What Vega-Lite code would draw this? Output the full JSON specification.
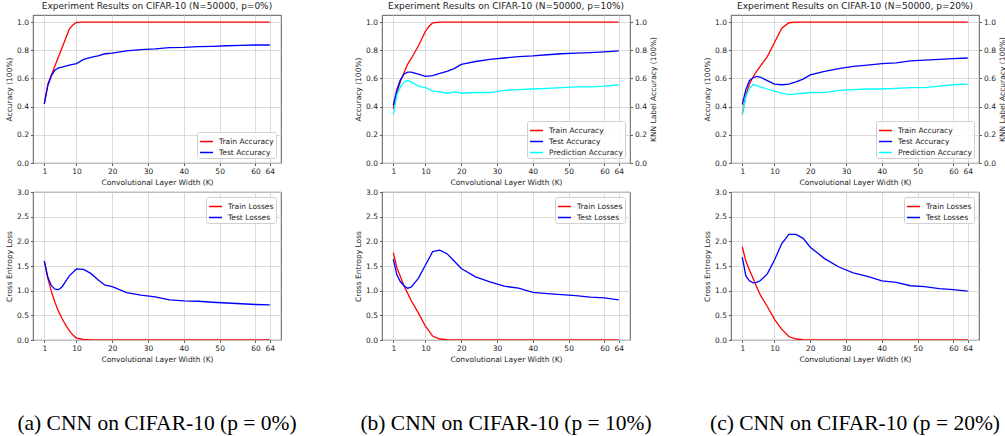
{
  "$schema": "https://vega.github.io/schema/vega-lite/v6.json",
  "padding": {"left": 5, "top": 1, "right": 0, "bottom": 0},
  "background": "white",
  "config": {
    "view": {"stroke": "#333333", "strokeWidth": 0.8},
    "axis": {"labelFont": "DejaVu Sans", "titleFont": "DejaVu Sans", "labelFontSize": 7.5, "titleFontSize": 7.5, "titleFontWeight": "normal", "labelColor": "#222222", "titleColor": "#222222", "tickColor": "#333333", "tickSize": 2.5, "tickWidth": 0.8, "domain": false, "grid": true, "gridColor": "#d2d2d2", "gridWidth": 0.8, "labelPadding": 2, "titlePadding": 3},
    "title": {"font": "DejaVu Sans", "fontSize": 9, "fontWeight": "normal", "color": "#222222", "offset": 4},
    "legend": {"symbolType": "stroke", "symbolStrokeWidth": 1.5, "symbolSize": 169, "labelFont": "DejaVu Sans", "labelFontSize": 7.5, "labelColor": "#222222", "strokeColor": "#d0d0d0", "fillColor": "rgba(255,255,255,0.85)", "cornerRadius": 2, "padding": 2, "rowPadding": -2, "offset": 5, "labelOffset": 5}
  },
  "datasets": {
    "acc": [
      {"p":"0","s":"Train Accuracy","k":1,"v":0.42},{"p":"0","s":"Train Accuracy","k":2,"v":0.56},{"p":"0","s":"Train Accuracy","k":3,"v":0.625},{"p":"0","s":"Train Accuracy","k":4,"v":0.69},{"p":"0","s":"Train Accuracy","k":5,"v":0.755},{"p":"0","s":"Train Accuracy","k":6,"v":0.82},{"p":"0","s":"Train Accuracy","k":7,"v":0.885},{"p":"0","s":"Train Accuracy","k":8,"v":0.95},{"p":"0","s":"Train Accuracy","k":9,"v":0.98},{"p":"0","s":"Train Accuracy","k":10,"v":0.997},{"p":"0","s":"Train Accuracy","k":12,"v":1.0},{"p":"0","s":"Train Accuracy","k":20,"v":1.0},{"p":"0","s":"Train Accuracy","k":30,"v":1.0},{"p":"0","s":"Train Accuracy","k":40,"v":1.0},{"p":"0","s":"Train Accuracy","k":50,"v":1.0},{"p":"0","s":"Train Accuracy","k":64,"v":1.0},
      {"p":"0","s":"Test Accuracy","k":1,"v":0.42},{"p":"0","s":"Test Accuracy","k":2,"v":0.55},{"p":"0","s":"Test Accuracy","k":3,"v":0.62},{"p":"0","s":"Test Accuracy","k":4,"v":0.66},{"p":"0","s":"Test Accuracy","k":5,"v":0.675},{"p":"0","s":"Test Accuracy","k":6,"v":0.68},{"p":"0","s":"Test Accuracy","k":8,"v":0.695},{"p":"0","s":"Test Accuracy","k":10,"v":0.705},{"p":"0","s":"Test Accuracy","k":12,"v":0.735},{"p":"0","s":"Test Accuracy","k":14,"v":0.75},{"p":"0","s":"Test Accuracy","k":16,"v":0.76},{"p":"0","s":"Test Accuracy","k":18,"v":0.775},{"p":"0","s":"Test Accuracy","k":20,"v":0.78},{"p":"0","s":"Test Accuracy","k":24,"v":0.795},{"p":"0","s":"Test Accuracy","k":28,"v":0.805},{"p":"0","s":"Test Accuracy","k":32,"v":0.81},{"p":"0","s":"Test Accuracy","k":36,"v":0.818},{"p":"0","s":"Test Accuracy","k":40,"v":0.82},{"p":"0","s":"Test Accuracy","k":44,"v":0.825},{"p":"0","s":"Test Accuracy","k":48,"v":0.828},{"p":"0","s":"Test Accuracy","k":52,"v":0.832},{"p":"0","s":"Test Accuracy","k":56,"v":0.835},{"p":"0","s":"Test Accuracy","k":60,"v":0.837},{"p":"0","s":"Test Accuracy","k":64,"v":0.837},
      {"p":"10","s":"Train Accuracy","k":1,"v":0.385},{"p":"10","s":"Train Accuracy","k":2,"v":0.5},{"p":"10","s":"Train Accuracy","k":3,"v":0.58},{"p":"10","s":"Train Accuracy","k":4,"v":0.64},{"p":"10","s":"Train Accuracy","k":5,"v":0.7},{"p":"10","s":"Train Accuracy","k":6,"v":0.74},{"p":"10","s":"Train Accuracy","k":8,"v":0.83},{"p":"10","s":"Train Accuracy","k":10,"v":0.935},{"p":"10","s":"Train Accuracy","k":11,"v":0.97},{"p":"10","s":"Train Accuracy","k":12,"v":0.995},{"p":"10","s":"Train Accuracy","k":14,"v":1.0},{"p":"10","s":"Train Accuracy","k":20,"v":1.0},{"p":"10","s":"Train Accuracy","k":30,"v":1.0},{"p":"10","s":"Train Accuracy","k":40,"v":1.0},{"p":"10","s":"Train Accuracy","k":50,"v":1.0},{"p":"10","s":"Train Accuracy","k":64,"v":1.0},
      {"p":"10","s":"Test Accuracy","k":1,"v":0.41},{"p":"10","s":"Test Accuracy","k":2,"v":0.52},{"p":"10","s":"Test Accuracy","k":3,"v":0.59},{"p":"10","s":"Test Accuracy","k":4,"v":0.63},{"p":"10","s":"Test Accuracy","k":5,"v":0.645},{"p":"10","s":"Test Accuracy","k":6,"v":0.645},{"p":"10","s":"Test Accuracy","k":8,"v":0.63},{"p":"10","s":"Test Accuracy","k":10,"v":0.615},{"p":"10","s":"Test Accuracy","k":12,"v":0.62},{"p":"10","s":"Test Accuracy","k":14,"v":0.635},{"p":"10","s":"Test Accuracy","k":16,"v":0.65},{"p":"10","s":"Test Accuracy","k":18,"v":0.67},{"p":"10","s":"Test Accuracy","k":20,"v":0.7},{"p":"10","s":"Test Accuracy","k":24,"v":0.72},{"p":"10","s":"Test Accuracy","k":28,"v":0.735},{"p":"10","s":"Test Accuracy","k":32,"v":0.745},{"p":"10","s":"Test Accuracy","k":36,"v":0.755},{"p":"10","s":"Test Accuracy","k":40,"v":0.76},{"p":"10","s":"Test Accuracy","k":44,"v":0.768},{"p":"10","s":"Test Accuracy","k":48,"v":0.775},{"p":"10","s":"Test Accuracy","k":52,"v":0.78},{"p":"10","s":"Test Accuracy","k":56,"v":0.783},{"p":"10","s":"Test Accuracy","k":60,"v":0.788},{"p":"10","s":"Test Accuracy","k":64,"v":0.795},
      {"p":"10","s":"Prediction Accuracy","k":1,"v":0.345},{"p":"10","s":"Prediction Accuracy","k":2,"v":0.48},{"p":"10","s":"Prediction Accuracy","k":3,"v":0.54},{"p":"10","s":"Prediction Accuracy","k":4,"v":0.575},{"p":"10","s":"Prediction Accuracy","k":5,"v":0.585},{"p":"10","s":"Prediction Accuracy","k":6,"v":0.575},{"p":"10","s":"Prediction Accuracy","k":8,"v":0.545},{"p":"10","s":"Prediction Accuracy","k":10,"v":0.535},{"p":"10","s":"Prediction Accuracy","k":12,"v":0.51},{"p":"10","s":"Prediction Accuracy","k":14,"v":0.505},{"p":"10","s":"Prediction Accuracy","k":16,"v":0.495},{"p":"10","s":"Prediction Accuracy","k":18,"v":0.505},{"p":"10","s":"Prediction Accuracy","k":20,"v":0.495},{"p":"10","s":"Prediction Accuracy","k":24,"v":0.5},{"p":"10","s":"Prediction Accuracy","k":28,"v":0.5},{"p":"10","s":"Prediction Accuracy","k":32,"v":0.515},{"p":"10","s":"Prediction Accuracy","k":36,"v":0.52},{"p":"10","s":"Prediction Accuracy","k":40,"v":0.525},{"p":"10","s":"Prediction Accuracy","k":44,"v":0.53},{"p":"10","s":"Prediction Accuracy","k":48,"v":0.535},{"p":"10","s":"Prediction Accuracy","k":52,"v":0.54},{"p":"10","s":"Prediction Accuracy","k":56,"v":0.54},{"p":"10","s":"Prediction Accuracy","k":60,"v":0.545},{"p":"10","s":"Prediction Accuracy","k":64,"v":0.555},
      {"p":"20","s":"Train Accuracy","k":1,"v":0.345},{"p":"20","s":"Train Accuracy","k":2,"v":0.48},{"p":"20","s":"Train Accuracy","k":3,"v":0.56},{"p":"20","s":"Train Accuracy","k":4,"v":0.61},{"p":"20","s":"Train Accuracy","k":5,"v":0.65},{"p":"20","s":"Train Accuracy","k":6,"v":0.685},{"p":"20","s":"Train Accuracy","k":8,"v":0.755},{"p":"20","s":"Train Accuracy","k":10,"v":0.855},{"p":"20","s":"Train Accuracy","k":12,"v":0.955},{"p":"20","s":"Train Accuracy","k":14,"v":0.995},{"p":"20","s":"Train Accuracy","k":16,"v":1.0},{"p":"20","s":"Train Accuracy","k":20,"v":1.0},{"p":"20","s":"Train Accuracy","k":30,"v":1.0},{"p":"20","s":"Train Accuracy","k":40,"v":1.0},{"p":"20","s":"Train Accuracy","k":50,"v":1.0},{"p":"20","s":"Train Accuracy","k":64,"v":1.0},
      {"p":"20","s":"Test Accuracy","k":1,"v":0.415},{"p":"20","s":"Test Accuracy","k":2,"v":0.52},{"p":"20","s":"Test Accuracy","k":3,"v":0.585},{"p":"20","s":"Test Accuracy","k":4,"v":0.605},{"p":"20","s":"Test Accuracy","k":5,"v":0.615},{"p":"20","s":"Test Accuracy","k":6,"v":0.61},{"p":"20","s":"Test Accuracy","k":8,"v":0.585},{"p":"20","s":"Test Accuracy","k":10,"v":0.56},{"p":"20","s":"Test Accuracy","k":12,"v":0.555},{"p":"20","s":"Test Accuracy","k":14,"v":0.56},{"p":"20","s":"Test Accuracy","k":16,"v":0.575},{"p":"20","s":"Test Accuracy","k":18,"v":0.595},{"p":"20","s":"Test Accuracy","k":20,"v":0.625},{"p":"20","s":"Test Accuracy","k":24,"v":0.65},{"p":"20","s":"Test Accuracy","k":28,"v":0.67},{"p":"20","s":"Test Accuracy","k":32,"v":0.685},{"p":"20","s":"Test Accuracy","k":36,"v":0.695},{"p":"20","s":"Test Accuracy","k":40,"v":0.705},{"p":"20","s":"Test Accuracy","k":44,"v":0.71},{"p":"20","s":"Test Accuracy","k":48,"v":0.725},{"p":"20","s":"Test Accuracy","k":52,"v":0.73},{"p":"20","s":"Test Accuracy","k":56,"v":0.735},{"p":"20","s":"Test Accuracy","k":60,"v":0.74},{"p":"20","s":"Test Accuracy","k":64,"v":0.745},
      {"p":"20","s":"Prediction Accuracy","k":1,"v":0.345},{"p":"20","s":"Prediction Accuracy","k":2,"v":0.47},{"p":"20","s":"Prediction Accuracy","k":3,"v":0.53},{"p":"20","s":"Prediction Accuracy","k":4,"v":0.555},{"p":"20","s":"Prediction Accuracy","k":5,"v":0.55},{"p":"20","s":"Prediction Accuracy","k":6,"v":0.54},{"p":"20","s":"Prediction Accuracy","k":8,"v":0.525},{"p":"20","s":"Prediction Accuracy","k":10,"v":0.51},{"p":"20","s":"Prediction Accuracy","k":12,"v":0.495},{"p":"20","s":"Prediction Accuracy","k":14,"v":0.485},{"p":"20","s":"Prediction Accuracy","k":16,"v":0.49},{"p":"20","s":"Prediction Accuracy","k":18,"v":0.495},{"p":"20","s":"Prediction Accuracy","k":20,"v":0.5},{"p":"20","s":"Prediction Accuracy","k":24,"v":0.5},{"p":"20","s":"Prediction Accuracy","k":28,"v":0.515},{"p":"20","s":"Prediction Accuracy","k":32,"v":0.52},{"p":"20","s":"Prediction Accuracy","k":36,"v":0.525},{"p":"20","s":"Prediction Accuracy","k":40,"v":0.525},{"p":"20","s":"Prediction Accuracy","k":44,"v":0.53},{"p":"20","s":"Prediction Accuracy","k":48,"v":0.535},{"p":"20","s":"Prediction Accuracy","k":52,"v":0.535},{"p":"20","s":"Prediction Accuracy","k":56,"v":0.545},{"p":"20","s":"Prediction Accuracy","k":60,"v":0.555},{"p":"20","s":"Prediction Accuracy","k":64,"v":0.56}
    ],
    "loss": [
      {"p":"0","s":"Train Losses","k":1,"v":1.6},{"p":"0","s":"Train Losses","k":2,"v":1.25},{"p":"0","s":"Train Losses","k":3,"v":0.98},{"p":"0","s":"Train Losses","k":4,"v":0.76},{"p":"0","s":"Train Losses","k":5,"v":0.58},{"p":"0","s":"Train Losses","k":6,"v":0.43},{"p":"0","s":"Train Losses","k":7,"v":0.3},{"p":"0","s":"Train Losses","k":8,"v":0.19},{"p":"0","s":"Train Losses","k":9,"v":0.1},{"p":"0","s":"Train Losses","k":10,"v":0.04},{"p":"0","s":"Train Losses","k":12,"v":0.01},{"p":"0","s":"Train Losses","k":14,"v":0.004},{"p":"0","s":"Train Losses","k":16,"v":0.002},{"p":"0","s":"Train Losses","k":20,"v":0.001},{"p":"0","s":"Train Losses","k":30,"v":0.0},{"p":"0","s":"Train Losses","k":40,"v":0.0},{"p":"0","s":"Train Losses","k":50,"v":0.0},{"p":"0","s":"Train Losses","k":64,"v":0.0},
      {"p":"0","s":"Test Losses","k":1,"v":1.605},{"p":"0","s":"Test Losses","k":2,"v":1.27},{"p":"0","s":"Test Losses","k":3,"v":1.1},{"p":"0","s":"Test Losses","k":4,"v":1.03},{"p":"0","s":"Test Losses","k":5,"v":1.02},{"p":"0","s":"Test Losses","k":6,"v":1.08},{"p":"0","s":"Test Losses","k":8,"v":1.3},{"p":"0","s":"Test Losses","k":10,"v":1.44},{"p":"0","s":"Test Losses","k":12,"v":1.43},{"p":"0","s":"Test Losses","k":14,"v":1.35},{"p":"0","s":"Test Losses","k":16,"v":1.22},{"p":"0","s":"Test Losses","k":18,"v":1.11},{"p":"0","s":"Test Losses","k":20,"v":1.08},{"p":"0","s":"Test Losses","k":24,"v":0.96},{"p":"0","s":"Test Losses","k":28,"v":0.91},{"p":"0","s":"Test Losses","k":32,"v":0.875},{"p":"0","s":"Test Losses","k":36,"v":0.815},{"p":"0","s":"Test Losses","k":40,"v":0.795},{"p":"0","s":"Test Losses","k":44,"v":0.785},{"p":"0","s":"Test Losses","k":48,"v":0.765},{"p":"0","s":"Test Losses","k":52,"v":0.75},{"p":"0","s":"Test Losses","k":56,"v":0.735},{"p":"0","s":"Test Losses","k":60,"v":0.72},{"p":"0","s":"Test Losses","k":64,"v":0.71},
      {"p":"10","s":"Train Losses","k":1,"v":1.77},{"p":"10","s":"Train Losses","k":2,"v":1.47},{"p":"10","s":"Train Losses","k":3,"v":1.28},{"p":"10","s":"Train Losses","k":4,"v":1.1},{"p":"10","s":"Train Losses","k":5,"v":0.95},{"p":"10","s":"Train Losses","k":6,"v":0.8},{"p":"10","s":"Train Losses","k":8,"v":0.55},{"p":"10","s":"Train Losses","k":10,"v":0.28},{"p":"10","s":"Train Losses","k":12,"v":0.08},{"p":"10","s":"Train Losses","k":14,"v":0.02},{"p":"10","s":"Train Losses","k":16,"v":0.005},{"p":"10","s":"Train Losses","k":20,"v":0.002},{"p":"10","s":"Train Losses","k":30,"v":0.0},{"p":"10","s":"Train Losses","k":40,"v":0.0},{"p":"10","s":"Train Losses","k":50,"v":0.0},{"p":"10","s":"Train Losses","k":64,"v":0.0},
      {"p":"10","s":"Test Losses","k":1,"v":1.64},{"p":"10","s":"Test Losses","k":2,"v":1.32},{"p":"10","s":"Test Losses","k":3,"v":1.18},{"p":"10","s":"Test Losses","k":4,"v":1.1},{"p":"10","s":"Test Losses","k":5,"v":1.05},{"p":"10","s":"Test Losses","k":6,"v":1.07},{"p":"10","s":"Test Losses","k":8,"v":1.25},{"p":"10","s":"Test Losses","k":10,"v":1.52},{"p":"10","s":"Test Losses","k":12,"v":1.79},{"p":"10","s":"Test Losses","k":14,"v":1.82},{"p":"10","s":"Test Losses","k":16,"v":1.75},{"p":"10","s":"Test Losses","k":18,"v":1.6},{"p":"10","s":"Test Losses","k":20,"v":1.45},{"p":"10","s":"Test Losses","k":24,"v":1.28},{"p":"10","s":"Test Losses","k":28,"v":1.18},{"p":"10","s":"Test Losses","k":32,"v":1.09},{"p":"10","s":"Test Losses","k":36,"v":1.05},{"p":"10","s":"Test Losses","k":40,"v":0.965},{"p":"10","s":"Test Losses","k":44,"v":0.94},{"p":"10","s":"Test Losses","k":48,"v":0.92},{"p":"10","s":"Test Losses","k":52,"v":0.9},{"p":"10","s":"Test Losses","k":56,"v":0.87},{"p":"10","s":"Test Losses","k":60,"v":0.855},{"p":"10","s":"Test Losses","k":64,"v":0.815},
      {"p":"20","s":"Train Losses","k":1,"v":1.89},{"p":"20","s":"Train Losses","k":2,"v":1.6},{"p":"20","s":"Train Losses","k":3,"v":1.42},{"p":"20","s":"Train Losses","k":4,"v":1.25},{"p":"20","s":"Train Losses","k":5,"v":1.08},{"p":"20","s":"Train Losses","k":6,"v":0.92},{"p":"20","s":"Train Losses","k":8,"v":0.68},{"p":"20","s":"Train Losses","k":10,"v":0.42},{"p":"20","s":"Train Losses","k":12,"v":0.22},{"p":"20","s":"Train Losses","k":14,"v":0.07},{"p":"20","s":"Train Losses","k":16,"v":0.02},{"p":"20","s":"Train Losses","k":18,"v":0.005},{"p":"20","s":"Train Losses","k":20,"v":0.002},{"p":"20","s":"Train Losses","k":30,"v":0.0},{"p":"20","s":"Train Losses","k":40,"v":0.0},{"p":"20","s":"Train Losses","k":50,"v":0.0},{"p":"20","s":"Train Losses","k":64,"v":0.0},
      {"p":"20","s":"Test Losses","k":1,"v":1.68},{"p":"20","s":"Test Losses","k":2,"v":1.3},{"p":"20","s":"Test Losses","k":3,"v":1.2},{"p":"20","s":"Test Losses","k":4,"v":1.16},{"p":"20","s":"Test Losses","k":5,"v":1.17},{"p":"20","s":"Test Losses","k":6,"v":1.2},{"p":"20","s":"Test Losses","k":8,"v":1.34},{"p":"20","s":"Test Losses","k":10,"v":1.62},{"p":"20","s":"Test Losses","k":12,"v":1.95},{"p":"20","s":"Test Losses","k":14,"v":2.14},{"p":"20","s":"Test Losses","k":16,"v":2.14},{"p":"20","s":"Test Losses","k":18,"v":2.06},{"p":"20","s":"Test Losses","k":20,"v":1.88},{"p":"20","s":"Test Losses","k":24,"v":1.65},{"p":"20","s":"Test Losses","k":28,"v":1.48},{"p":"20","s":"Test Losses","k":32,"v":1.36},{"p":"20","s":"Test Losses","k":36,"v":1.29},{"p":"20","s":"Test Losses","k":40,"v":1.2},{"p":"20","s":"Test Losses","k":44,"v":1.17},{"p":"20","s":"Test Losses","k":48,"v":1.1},{"p":"20","s":"Test Losses","k":52,"v":1.08},{"p":"20","s":"Test Losses","k":56,"v":1.04},{"p":"20","s":"Test Losses","k":60,"v":1.02},{"p":"20","s":"Test Losses","k":64,"v":0.99}
    ]
  },
  "hconcat": [
    {
      "vconcat": [
        {
          "title": "Experiment Results on CIFAR-10 (N=50000, p=0%)",
          "width": 248, "height": 148,
          "data": {"name": "acc"},
          "transform": [{"filter": "datum.p == '0'"}],
          "mark": {"type": "line", "strokeWidth": 1.3, "clip": true},
          "encoding": {
            "x": {"field": "k", "type": "quantitative", "scale": {"domain": [-2.15, 67.15], "nice": false, "zero": false}, "axis": {"values": [1, 10, 20, 30, 40, 50, 60, 64], "format": "d", "title": "Convolutional Layer Width (K)"}},
            "y": {"field": "v", "type": "quantitative", "scale": {"domain": [0, 1.05], "nice": false}, "axis": {"values": [0, 0.2, 0.4, 0.6, 0.8, 1.0], "format": ".1f", "title": "Accuracy (100%)"}},
            "color": {"field": "s", "type": "nominal", "sort": null, "scale": {"domain": ["Train Accuracy", "Test Accuracy"], "range": ["#ff0000", "#0000ff"]}, "legend": {"title": null, "orient": "bottom-right"}}
          }
        },
        {
          "title": {"text": "(a) CNN on CIFAR-10 (p = 0%)", "orient": "bottom", "font": "Liberation Serif", "fontSize": 21.5, "color": "#000000", "offset": 50, "anchor": "middle"},
          "width": 248, "height": 148,
          "data": {"name": "loss"},
          "transform": [{"filter": "datum.p == '0'"}],
          "mark": {"type": "line", "strokeWidth": 1.3, "clip": true},
          "encoding": {
            "x": {"field": "k", "type": "quantitative", "scale": {"domain": [-2.15, 67.15], "nice": false, "zero": false}, "axis": {"values": [1, 10, 20, 30, 40, 50, 60, 64], "format": "d", "title": "Convolutional Layer Width (K)"}},
            "y": {"field": "v", "type": "quantitative", "scale": {"domain": [0, 3], "nice": false}, "axis": {"values": [0, 0.5, 1, 1.5, 2, 2.5, 3], "format": ".1f", "title": "Cross Entropy Loss"}},
            "color": {"field": "s", "type": "nominal", "sort": null, "scale": {"domain": ["Train Losses", "Test Losses"], "range": ["#ff0000", "#0000ff"]}, "legend": {"title": null, "orient": "top-right"}}
          }
        }
      ],
      "spacing": 29, "bounds": "flush",
      "resolve": {"scale": {"color": "independent"}, "legend": {"color": "independent"}}
    },
    {
      "vconcat": [
        {
          "title": "Experiment Results on CIFAR-10 (N=50000, p=10%)",
          "width": 248, "height": 148,
          "data": {"name": "acc"},
          "transform": [{"filter": "datum.p == '10'"}],
          "encoding": {
            "x": {"field": "k", "type": "quantitative", "scale": {"domain": [-2.15, 67.15], "nice": false, "zero": false}, "axis": {"values": [1, 10, 20, 30, 40, 50, 60, 64], "format": "d", "title": "Convolutional Layer Width (K)"}},
            "color": {"field": "s", "type": "nominal", "sort": null, "scale": {"domain": ["Train Accuracy", "Test Accuracy", "Prediction Accuracy"], "range": ["#ff0000", "#0000ff", "#00ffff"]}, "legend": {"title": null, "orient": "bottom-right"}}
          },
          "layer": [
            {
              "transform": [{"filter": "datum.s != 'Prediction Accuracy'"}],
              "mark": {"type": "line", "strokeWidth": 1.3, "clip": true},
              "encoding": {
                "y": {"field": "v", "type": "quantitative", "scale": {"domain": [0, 1.05], "nice": false}, "axis": {"values": [0, 0.2, 0.4, 0.6, 0.8, 1.0], "format": ".1f", "title": "Accuracy (100%)"}}
              }
            },
            {
              "transform": [{"filter": "datum.s == 'Prediction Accuracy'"}],
              "mark": {"type": "line", "strokeWidth": 1.3, "clip": true},
              "encoding": {
                "y": {"field": "v", "type": "quantitative", "scale": {"domain": [0, 1.05], "nice": false}, "axis": {"orient": "right", "grid": false, "values": [0, 0.2, 0.4, 0.6, 0.8, 1.0], "format": ".1f", "title": "KNN Label Accuracy (100%)", "titleAngle": 270, "titleBaseline": "top"}}
              }
            }
          ],
          "resolve": {"scale": {"y": "independent"}}
        },
        {
          "title": {"text": "(b) CNN on CIFAR-10 (p = 10%)", "orient": "bottom", "font": "Liberation Serif", "fontSize": 21.5, "color": "#000000", "offset": 50, "anchor": "middle"},
          "width": 248, "height": 148,
          "data": {"name": "loss"},
          "transform": [{"filter": "datum.p == '10'"}],
          "mark": {"type": "line", "strokeWidth": 1.3, "clip": true},
          "encoding": {
            "x": {"field": "k", "type": "quantitative", "scale": {"domain": [-2.15, 67.15], "nice": false, "zero": false}, "axis": {"values": [1, 10, 20, 30, 40, 50, 60, 64], "format": "d", "title": "Convolutional Layer Width (K)"}},
            "y": {"field": "v", "type": "quantitative", "scale": {"domain": [0, 3], "nice": false}, "axis": {"values": [0, 0.5, 1, 1.5, 2, 2.5, 3], "format": ".1f", "title": "Cross Entropy Loss"}},
            "color": {"field": "s", "type": "nominal", "sort": null, "scale": {"domain": ["Train Losses", "Test Losses"], "range": ["#ff0000", "#0000ff"]}, "legend": {"title": null, "orient": "top-right"}}
          }
        }
      ],
      "spacing": 29, "bounds": "flush",
      "resolve": {"scale": {"color": "independent"}, "legend": {"color": "independent"}}
    },
    {
      "vconcat": [
        {
          "title": "Experiment Results on CIFAR-10 (N=50000, p=20%)",
          "width": 248, "height": 148,
          "data": {"name": "acc"},
          "transform": [{"filter": "datum.p == '20'"}],
          "encoding": {
            "x": {"field": "k", "type": "quantitative", "scale": {"domain": [-2.15, 67.15], "nice": false, "zero": false}, "axis": {"values": [1, 10, 20, 30, 40, 50, 60, 64], "format": "d", "title": "Convolutional Layer Width (K)"}},
            "color": {"field": "s", "type": "nominal", "sort": null, "scale": {"domain": ["Train Accuracy", "Test Accuracy", "Prediction Accuracy"], "range": ["#ff0000", "#0000ff", "#00ffff"]}, "legend": {"title": null, "orient": "bottom-right"}}
          },
          "layer": [
            {
              "transform": [{"filter": "datum.s != 'Prediction Accuracy'"}],
              "mark": {"type": "line", "strokeWidth": 1.3, "clip": true},
              "encoding": {
                "y": {"field": "v", "type": "quantitative", "scale": {"domain": [0, 1.05], "nice": false}, "axis": {"values": [0, 0.2, 0.4, 0.6, 0.8, 1.0], "format": ".1f", "title": "Accuracy (100%)"}}
              }
            },
            {
              "transform": [{"filter": "datum.s == 'Prediction Accuracy'"}],
              "mark": {"type": "line", "strokeWidth": 1.3, "clip": true},
              "encoding": {
                "y": {"field": "v", "type": "quantitative", "scale": {"domain": [0, 1.05], "nice": false}, "axis": {"orient": "right", "grid": false, "values": [0, 0.2, 0.4, 0.6, 0.8, 1.0], "format": ".1f", "title": "KNN Label Accuracy (100%)", "titleAngle": 270, "titleBaseline": "top"}}
              }
            }
          ],
          "resolve": {"scale": {"y": "independent"}}
        },
        {
          "title": {"text": "(c) CNN on CIFAR-10 (p = 20%)", "orient": "bottom", "font": "Liberation Serif", "fontSize": 21.5, "color": "#000000", "offset": 50, "anchor": "middle"},
          "width": 248, "height": 148,
          "data": {"name": "loss"},
          "transform": [{"filter": "datum.p == '20'"}],
          "mark": {"type": "line", "strokeWidth": 1.3, "clip": true},
          "encoding": {
            "x": {"field": "k", "type": "quantitative", "scale": {"domain": [-2.15, 67.15], "nice": false, "zero": false}, "axis": {"values": [1, 10, 20, 30, 40, 50, 60, 64], "format": "d", "title": "Convolutional Layer Width (K)"}},
            "y": {"field": "v", "type": "quantitative", "scale": {"domain": [0, 3], "nice": false}, "axis": {"values": [0, 0.5, 1, 1.5, 2, 2.5, 3], "format": ".1f", "title": "Cross Entropy Loss"}},
            "color": {"field": "s", "type": "nominal", "sort": null, "scale": {"domain": ["Train Losses", "Test Losses"], "range": ["#ff0000", "#0000ff"]}, "legend": {"title": null, "orient": "top-right"}}
          }
        }
      ],
      "spacing": 29, "bounds": "flush",
      "resolve": {"scale": {"color": "independent"}, "legend": {"color": "independent"}}
    }
  ],
  "spacing": 349, "bounds": "flush",
  "resolve": {"scale": {"color": "independent"}, "legend": {"color": "independent"}}
}
